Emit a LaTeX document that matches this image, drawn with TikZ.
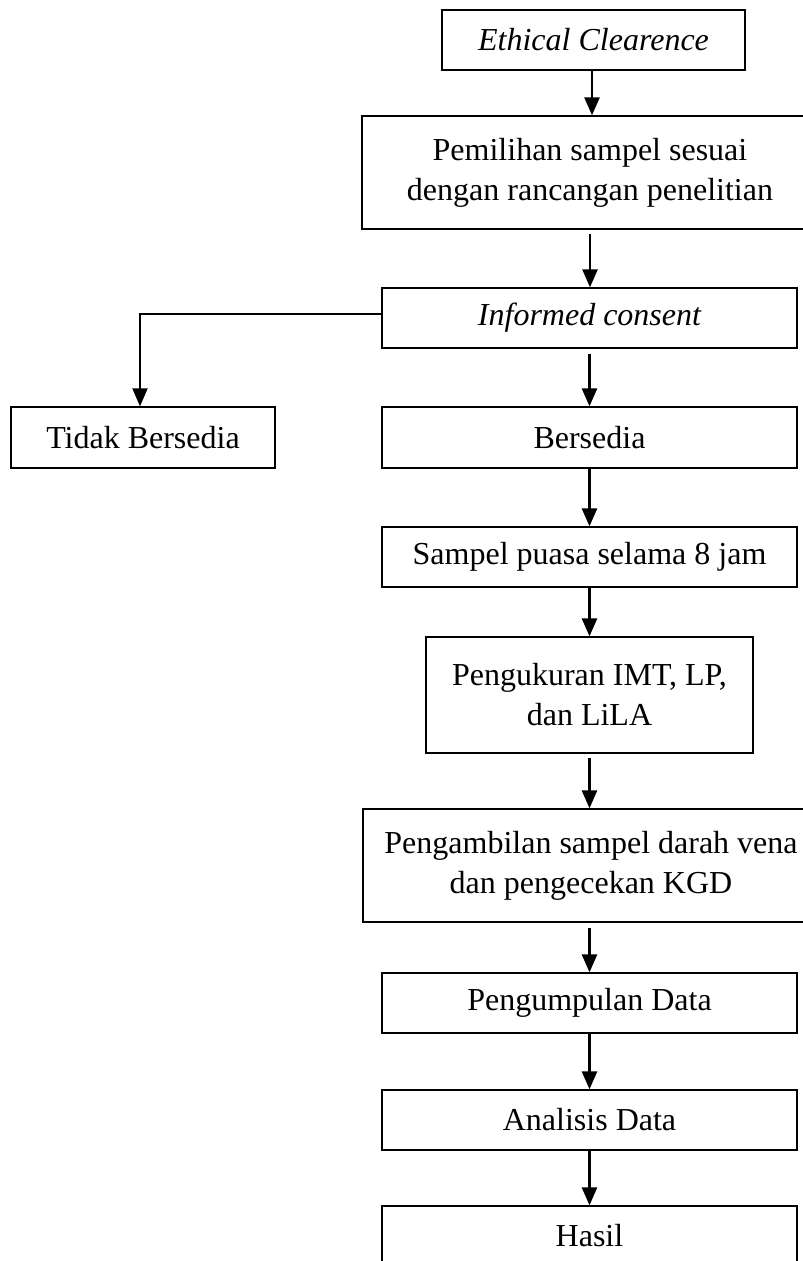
\documentclass[tikz,border=0pt]{standalone}
\usepackage{fontspec}
\setmainfont{Liberation Serif}
\usetikzlibrary{arrows.meta}
\begin{document}
\begin{tikzpicture}[x=1pt,y=-1pt,
  box/.style={draw, line width=1.3pt, inner sep=0pt, align=center,
    font=\fontsize{32}{40}\selectfont},
  arr/.style={line width=2.6pt, -{Triangle[length=18pt,width=15pt]}}]
\useasboundingbox (0,0) rectangle (803,1261);
\node[box, minimum width=303pt, minimum height=60pt] (eth) at (593.5,40) {\itshape Ethical Clearence};
\node[box, minimum width=456pt, minimum height=113pt] (pem) at (590,172.5) {Pemilihan sampel sesuai\\dengan rancangan penelitian};
\node[box, minimum width=415pt, minimum height=60pt] (inf) at (589.5,318) {\itshape Informed consent};
\node[box, minimum width=264pt, minimum height=61pt] (tid) at (143,437.5) {Tidak Bersedia};
\node[box, minimum width=415pt, minimum height=61pt] (ber) at (589.5,437.5) {Bersedia};
\node[box, minimum width=415pt, minimum height=60pt] (sam) at (589.5,557) {Sampel puasa selama 8 jam};
\node[box, minimum width=327pt, minimum height=116pt] (ukr) at (589.5,695) {Pengukuran IMT, LP,\\dan LiLA};
\node[box, minimum width=456pt, minimum height=113pt] (amb) at (591,865.5) {Pengambilan sampel darah vena\\dan pengecekan KGD};
\node[box, minimum width=415pt, minimum height=60pt] (kum) at (589.5,1003) {Pengumpulan Data};
\node[box, minimum width=415pt, minimum height=60pt] (ana) at (589.5,1120) {Analisis Data};
\node[box, minimum width=415pt, minimum height=60pt] (has) at (589.5,1236) {Hasil};

\draw[arr] ([xshift=-1.5pt]eth.south) -- ([xshift=-1.5pt]eth.south |- pem.north);
\draw[arr, shorten <=4pt] (pem.south) -- (pem.south |- inf.north);
\draw[arr, shorten <=5pt] (inf.south) -- (ber.north);
\draw[arr] (ber.south) -- (sam.north);
\draw[arr] (sam.south) -- (ukr.north);
\draw[arr, shorten <=4pt] (ukr.south) -- (ukr.south |- amb.north);
\draw[arr, shorten <=5pt] (amb.south -| kum.north) -- (kum.north);
\draw[arr] (kum.south) -- (ana.north);
\draw[arr] (ana.south) -- (has.north);
\draw[arr, line width=2pt] ([yshift=4pt]inf.west) -| ([xshift=-3pt]tid.north);
\end{tikzpicture}
\end{document}
